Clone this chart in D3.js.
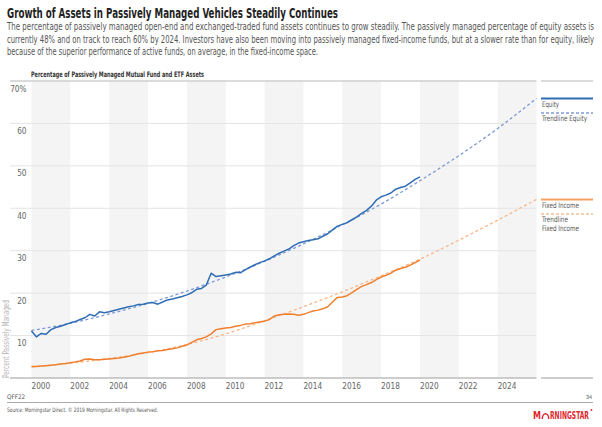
<!DOCTYPE html>
<html>
<head>
<meta charset="utf-8">
<script src="https://cdn.jsdelivr.net/npm/d3@7"></script>
<style>
  body { margin: 0; background: #fff; }
  svg { display: block; font-family: "Liberation Sans Narrow", "DejaVu Sans Condensed", sans-serif; }
</style>
</head>
<body>
<div id="chart"></div>
<script>
// Quarterly readings, first quarter 2000 through end 2019
const startYear = 2000;
const equity = [
  11.1, 9.7, 10.5, 10.3, 11.4, 11.9, 12.2, 12.6,
  13.0, 13.3, 13.8, 14.2, 15.0, 14.6, 15.6, 15.4,
  15.6, 15.9, 16.2, 16.5, 16.8, 17.0, 17.3, 17.4,
  17.7, 17.8, 17.4, 17.9, 18.4, 18.6, 18.9, 19.2,
  19.6, 20.1, 20.9, 21.1, 21.9, 24.7, 23.9, 24.1,
  24.3, 24.5, 24.9, 24.8, 25.5, 26.1, 26.7, 27.2,
  27.6, 28.1, 28.8, 29.4, 29.9, 30.4, 31.2, 31.8,
  32.1, 32.4, 32.6, 32.8, 33.4, 34.0, 34.9, 35.8,
  36.2, 36.6, 37.3, 38.0, 38.8, 39.5, 40.5, 41.9,
  42.7, 43.1, 43.6, 44.5, 44.9, 45.2, 46.0, 46.8, 47.4
];
const fixedIncome = [
  2.7, 2.7, 2.8, 2.9, 3.0, 3.1, 3.3, 3.4,
  3.6, 3.8, 4.0, 4.4, 4.5, 4.3, 4.3, 4.4,
  4.5, 4.6, 4.7, 4.9, 5.1, 5.4, 5.7, 5.9,
  6.1, 6.2, 6.4, 6.5, 6.7, 6.9, 7.1, 7.5,
  7.8, 8.4, 9.0, 9.3, 9.7, 10.4, 11.4, 11.6,
  11.8, 11.9, 12.2, 12.4, 12.7, 12.8, 13.0, 13.2,
  13.4, 13.8, 14.6, 14.9, 15.0, 15.1, 15.0, 14.8,
  15.0, 15.4, 15.8, 16.0, 16.3, 16.8, 17.9, 19.0,
  19.1, 19.4, 20.1, 20.9, 21.6, 22.0, 22.5, 23.2,
  23.8, 24.2, 24.7, 25.4, 25.8, 26.1, 26.6, 27.2, 27.8
];

// Trendlines, read every two years out to 2026
const trendYears = [2000, 2002, 2004, 2006, 2008, 2010, 2012, 2014, 2016, 2018, 2020, 2022, 2024, 2026];
const equityTrend = [11.2, 12.9, 15.1, 17.6, 20.5, 23.8, 27.5, 31.6, 36.1, 41.0, 46.5, 52.4, 58.8, 65.9];
const fixedTrend = [2.6, 3.5, 4.6, 6.0, 7.9, 10.4, 13.5, 16.8, 20.3, 24.1, 28.0, 32.5, 37.2, 42.1];

const yearTicks = [2000, 2002, 2004, 2006, 2008, 2010, 2012, 2014, 2016, 2018, 2020, 2022, 2024];
const valueTicks = [10, 20, 30, 40, 50, 60, 70];
const legendLabels = [["Equity"], ["Trendline Equity"], ["Fixed Income"], ["Trendline", "Fixed Income"]];

const width = 602, height = 427;
const svg = d3.select("#chart").append("svg")
    .attr("width", width)
    .attr("height", height);

const x = d3.scaleLinear().domain([2000, 2026]).range([31.5, 536.5]);
const y = d3.scaleLinear().domain([0, 70]).range([378, 81]);

// helper: text squeezed to the width it has in the original
function fitText(sel, len) {
    return sel.attr("textLength", len).attr("lengthAdjust", "spacingAndGlyphs");
}

// Title block
fitText(svg.append("text")
   .attr("x", 7).attr("y", 18)
   .attr("font-size", 14).attr("font-weight", "bold").attr("fill", "#222")
   .text("Growth of Assets in Passively Managed Vehicles Steadily Continues"), 331);

const intro = [
  "The percentage of passively managed open-end and exchanged-traded fund assets continues to grow steadily. The passively managed percentage of equity assets is",
  "currently 48% and on track to reach 60% by 2024. Investors have also been moving into passively managed fixed-income funds, but at a slower rate than for equity, likely",
  "because of the superior performance of active funds, on average, in the fixed-income space."
];
const introWidths = [587, 587, 311];
intro.forEach((line, i) => {
    fitText(svg.append("text")
       .attr("x", 7).attr("y", 30 + i * 12.7)
       .attr("font-size", 9.6).attr("fill", "#555")
       .text(line), introWidths[i]);
});

fitText(svg.append("text")
   .attr("x", 31).attr("y", 77)
   .attr("font-size", 7.6).attr("font-weight", "bold").attr("fill", "#333")
   .text("Percentage of Passively Managed Mutual Fund and ETF Assets"), 173);

// Alternating two-year bands
const bandStarts = yearTicks.filter((d, i) => i % 2 === 0);
svg.append("g").selectAll("rect")
   .data(bandStarts)
   .join("rect")
   .attr("x", d => x(d))
   .attr("y", y(70))
   .attr("width", d => x(d + 2) - x(d))
   .attr("height", y(0) - y(70))
   .attr("fill", "#f4f4f4");

// Gridlines and value labels
svg.append("g").selectAll("line")
   .data(valueTicks.filter(d => d < 70))
   .join("line")
   .attr("x1", 10).attr("x2", x(2026))
   .attr("y1", d => y(d)).attr("y2", d => y(d))
   .attr("stroke", "#e4e4e4").attr("stroke-width", 1);

svg.append("g").selectAll("text")
   .data(valueTicks)
   .join("text")
   .attr("x", 26.5)
   .attr("y", d => y(d) + 10.5)
   .attr("text-anchor", "end")
   .attr("font-size", 8.2).attr("fill", "#666")
   .text(d => d === 70 ? "70%" : d);

// Frame lines (top and bottom), split at the legend column
[[10, x(2026)], [541, 593]].forEach(([a, b]) => {
    svg.append("line").attr("x1", a).attr("x2", b)
       .attr("y1", y(70)).attr("y2", y(70))
       .attr("stroke", "#cfcfcf").attr("stroke-width", 1.5);
    svg.append("line").attr("x1", a).attr("x2", b)
       .attr("y1", y(0)).attr("y2", y(0))
       .attr("stroke", "#bdbdbd").attr("stroke-width", 1.5);
});

// Year labels, left aligned at their tick
svg.append("g").selectAll("text")
   .data(yearTicks)
   .join("text")
   .attr("x", d => x(d))
   .attr("y", 389)
   .attr("font-size", 8.2).attr("fill", "#666")
   .text(d => d);

fitText(svg.append("text")
   .attr("transform", "translate(9," + y(0) + ") rotate(-90)")
   .attr("font-size", 8).attr("fill", "#b5b5b5")
   .text("Percent Passively Managed"), 78);

// Lines
const dataLine = d3.line()
    .x((d, i) => x(startYear + i / 4))
    .y(d => y(d));

const trendLine = d3.line()
    .x((d, i) => x(trendYears[i]))
    .y(d => y(d))
    .curve(d3.curveMonotoneX);

const series = [
    { values: fixedTrend, gen: trendLine, color: "#f8b688", w: 1.3, dash: "3,2.5" },
    { values: fixedIncome, gen: dataLine, color: "#f07f2d", w: 1.5, dash: null },
    { values: equityTrend, gen: trendLine, color: "#7f9ad6", w: 1.3, dash: "3,2.5" },
    { values: equity, gen: dataLine, color: "#2f6db4", w: 1.5, dash: null }
];
series.forEach(s => {
    svg.append("path")
       .attr("d", s.gen(s.values))
       .attr("fill", "none")
       .attr("stroke", s.color)
       .attr("stroke-width", s.w)
       .attr("stroke-dasharray", s.dash)
       .attr("stroke-linejoin", "round");
});

// Legend column, placed at the trendline ends
const legendItems = [
    { y: y(equityTrend[equityTrend.length - 1]), color: "#2f6db4", dash: null, w: 2, len: [17] },
    { y: y(equityTrend[equityTrend.length - 1]) + 14.6, color: "#7f9ad6", dash: "3,2", w: 1.5, len: [45] },
    { y: y(fixedTrend[fixedTrend.length - 1]), color: "#f5a265", dash: null, w: 2, len: [37] },
    { y: y(fixedTrend[fixedTrend.length - 1]) + 14.6, color: "#f8bf94", dash: "3,2", w: 1.5, len: [26, 37] }
];
legendItems.forEach((d, i) => {
    svg.append("line")
       .attr("x1", 541).attr("x2", 593)
       .attr("y1", d.y).attr("y2", d.y)
       .attr("stroke", d.color).attr("stroke-width", d.w)
       .attr("stroke-dasharray", d.dash);
    legendLabels[i].forEach((t, j) => {
        fitText(svg.append("text")
           .attr("x", 542).attr("y", d.y + 8.3 + j * 8.6)
           .attr("font-size", 7.6).attr("fill", "#555")
           .text(t), d.len[j]);
    });
});

// Footer
svg.append("text").attr("x", 7).attr("y", 399)
   .attr("font-size", 6.3).attr("fill", "#555").text("QFF22");
svg.append("text").attr("x", 592).attr("y", 399).attr("text-anchor", "end")
   .attr("font-size", 5.3).attr("fill", "#444").text("34");
svg.append("line").attr("x1", 7).attr("x2", 593)
   .attr("y1", 402.5).attr("y2", 402.5)
   .attr("stroke", "#aaa").attr("stroke-width", 1);
fitText(svg.append("text").attr("x", 7).attr("y", 412)
   .attr("font-size", 6).attr("fill", "#555")
   .text("Source: Morningstar Direct. \u00A9 2019 Morningstar. All Rights Reserved."), 151);

// Morningstar wordmark
const logo = svg.append("g").attr("fill", "#e0282e");
fitText(logo.append("text").attr("x", 533).attr("y", 419)
   .attr("font-size", 10.5).attr("font-weight", "bold").text("M"), 8);
logo.append("path")
   .attr("d", "M541.5,419 A4,6 0 0 1 549.5,419 L548,419 A2.5,4.5 0 0 0 543,419 Z");
fitText(logo.append("text").attr("x", 550).attr("y", 419)
   .attr("font-size", 10.5).attr("font-weight", "bold").text("RNINGSTAR"), 39);
logo.append("circle").attr("cx", 591.5).attr("cy", 410).attr("r", 0.9);
</script>
</body>
</html>
